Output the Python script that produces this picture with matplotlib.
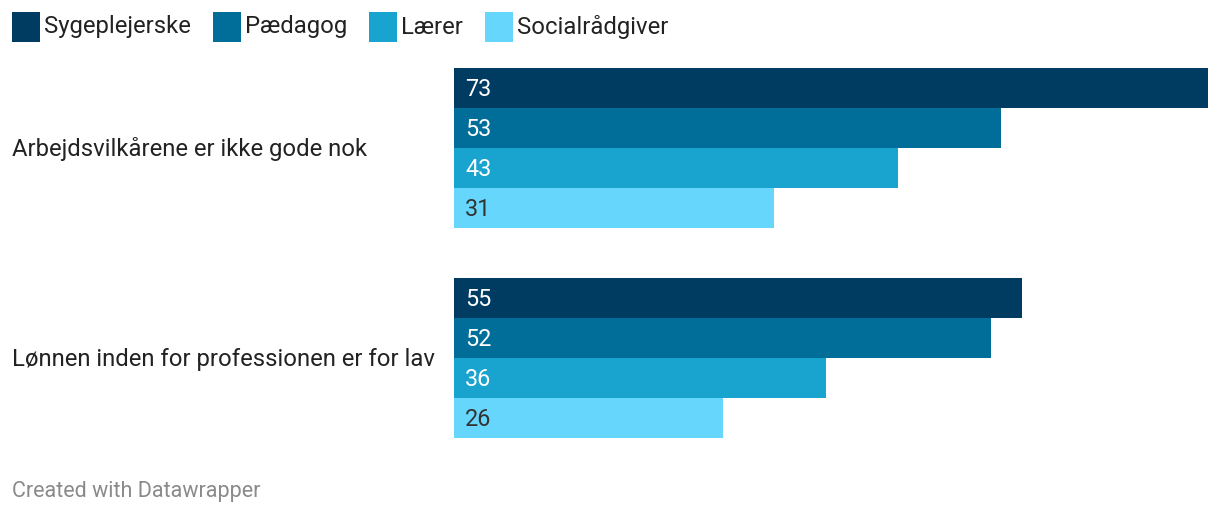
import matplotlib.pyplot as plt
from matplotlib.patches import Rectangle
from matplotlib.transforms import blended_transform_factory

plt.rcParams['font.family'] = ['Roboto', 'DejaVu Sans']

# data
categories = ['Arbejdsvilkårene er ikke gode nok', 'Lønnen inden for professionen er for lav']
series = ['Sygeplejerske', 'Pædagog', 'Lærer', 'Socialrådgiver']
values = {
    'Sygeplejerske': [73, 55],
    'Pædagog': [53, 52],
    'Lærer': [43, 36],
    'Socialrådgiver': [31, 26],
}
colors = ['#003c62', '#006e98', '#19a3cf', '#67d6fd']
label_colors = ['white', 'white', 'white', '#333333']

W, H = 1220, 516
fig = plt.figure(figsize=(W / 100, H / 100), dpi=100)

# axes: bar area from x=454..1208, y=68..438 (pixels from top)
ax = fig.add_axes([454 / W, 1 - 438 / H, (1208 - 454) / W, 370 / H])
group_step = 5.25
ax.set_xlim(0, max(values['Sygeplejerske']))
ax.set_ylim(2 * group_step - 1.25, 0)
ax.axis('off')

trans = blended_transform_factory(fig.transFigure, ax.transData)
for gi, cat in enumerate(categories):
    base = gi * group_step
    for si, s in enumerate(series):
        y = base + si + 0.5
        v = values[s][gi]
        ax.barh(y, v, height=1.0, color=colors[si], linewidth=0)
        ax.text(1.1, y + 0.04, str(v), color=label_colors[si], fontsize=16.8,
                va='center', ha='left')
    ax.text(12 / W, base + 2.03, cat, transform=trans, fontsize=17.2,
            color='#222222', va='center', ha='left')

# legend
fig.canvas.draw()
renderer = fig.canvas.get_renderer()
x = 12
for s, c in zip(series, colors):
    fig.add_artist(Rectangle((x / W, 1 - 42 / H), 28 / W, 30 / H,
                             transform=fig.transFigure, color=c, lw=0))
    t = fig.text((x + 32) / W, 1 - 27 / H, s, fontsize=17.2, color='#222222',
                 va='center', ha='left')
    bb = t.get_window_extent(renderer)
    x = bb.x1 + 22

fig.text(12 / W, 1 - 491 / H, 'Created with Datawrapper', fontsize=15.5,
         color='#8a8a8a', va='center', ha='left')

fig.savefig('out.png', dpi=100)
